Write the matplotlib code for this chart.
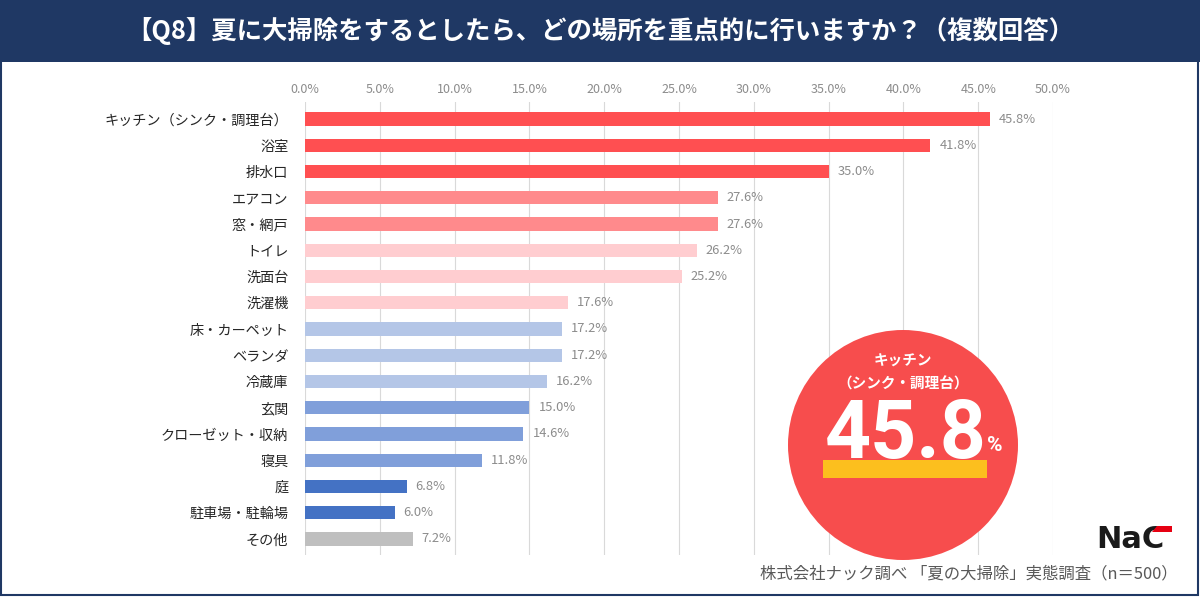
import matplotlib
matplotlib.use("Agg")
import matplotlib.pyplot as plt
from matplotlib.patches import Rectangle, Ellipse, Polygon

plt.rcParams['font.family'] = ['Noto Sans CJK JP', 'DejaVu Sans']

# Data (top to bottom as shown)
categories = ['キッチン（シンク・調理台）', '浴室', '排水口', 'エアコン', '窓・網戸', 'トイレ',
              '洗面台', '洗濯機', '床・カーペット', 'ベランダ', '冷蔵庫', '玄関',
              'クローゼット・収納', '寝具', '庭', '駐車場・駐輪場', 'その他']
values = [45.8, 41.8, 35.0, 27.6, 27.6, 26.2, 25.2, 17.6, 17.2, 17.2, 16.2, 15.0,
          14.6, 11.8, 6.8, 6.0, 7.2]
bar_colors = ['#ff4f51', '#ff4f51', '#ff4f51', '#ff8a8c', '#ff8a8c', '#ffcdd0',
              '#ffcdd0', '#ffcdd0', '#b4c6e7', '#b4c6e7', '#b4c6e7', '#809fda',
              '#809fda', '#809fda', '#4472c4', '#4472c4', '#bfbfbf']
x_ticks = [0, 5, 10, 15, 20, 25, 30, 35, 40, 45, 50]

title = '【Q8】夏に大掃除をするとしたら、どの場所を重点的に行いますか？（複数回答）'
source = '株式会社ナック調べ 「夏の大掃除」実態調査（n＝500）'

W, H = 1200, 597
fig = plt.figure(figsize=(W / 100, H / 100), dpi=100)
fig.patch.set_facecolor('white')

# title band
fig.patches.append(Rectangle((0, 1 - 62 / H), 1, 62 / H, transform=fig.transFigure,
                             facecolor='#1f3864', edgecolor='none', zorder=0))
fig.text(0.5, 1 - 31 / H, title, color='white', fontsize=18.3, fontweight='bold',
         ha='center', va='center')
# outer frame
fig.patches.append(Rectangle((0.001, 0.003), 0.997, 0.994, transform=fig.transFigure,
                             facecolor='none', edgecolor='#1f3864', linewidth=1.5, zorder=0))

# chart area
left, right = 305 / W, 1053 / W
top, bottom = 1 - 102 / H, 1 - 555 / H
ax = fig.add_axes([left, bottom, right - left, top - bottom])

y = list(range(len(categories)))
ax.barh(y, values, height=0.5, color=bar_colors, zorder=3)
for yi, v in zip(y, values):
    ax.text(v + 0.6, yi, f'{v:.1f}%', va='center', ha='left', fontsize=9.3, color='#8c8c8c')

ax.set_xlim(0, 50)
ax.set_ylim(16.61, -0.648)
ax.set_xticks(x_ticks)
ax.set_xticklabels([f'{t:.1f}%' for t in x_ticks], fontsize=9, color='#8c8c8c')
ax.xaxis.tick_top()
ax.tick_params(axis='x', length=0, pad=4)
ax.set_yticks(y)
ax.set_yticklabels(categories, fontsize=10.2, color='#262626')
ax.tick_params(axis='y', length=0, pad=12)
ax.grid(axis='x', color='#d9d9d9', linewidth=0.8, zorder=0)
for s in ax.spines.values():
    s.set_visible(False)
ax.set_facecolor('none')

# highlight circle
cx, cy, r = 903, 445, 115
fig.patches.append(Ellipse((cx / W, 1 - cy / H), 2 * r / W, 2 * r / H,
                           transform=fig.transFigure, facecolor='#f74d4d',
                           edgecolor='none', zorder=4))
fig.patches.append(Rectangle((823 / W, 1 - 478 / H), 164 / W, 18 / H,
                             transform=fig.transFigure, facecolor='#fcbf1e',
                             edgecolor='none', zorder=5))
fig.text(cx / W, 1 - 361 / H, 'キッチン', color='white', fontsize=10.5,
         fontweight='bold', ha='center', va='center', zorder=6)
fig.text(cx / W, 1 - 384 / H, '（シンク・調理台）', color='white', fontsize=10.5,
         fontweight='bold', ha='center', va='center', zorder=6)
fig.text(906 / W, 1 - 458 / H, f'{values[0]:.1f}', color='white', fontsize=58,
         fontfamily='Roboto', fontweight='bold', ha='center', va='baseline', zorder=6)
fig.text(987 / W, 1 - 451 / H, '%', color='white', fontsize=15,
         fontfamily='Roboto', fontweight='bold', ha='left', va='baseline', zorder=6)

# logo
fig.text(1130 / W, 1 - 539 / H, 'NaC', color='#1a1a1a', fontsize=22, fontweight='black',
         fontfamily='DejaVu Sans', ha='center', va='center')
fig.patches.append(Polygon([(1157 / W, 1 - 526 / H), (1172 / W, 1 - 526 / H),
                            (1172 / W, 1 - 532 / H), (1152 / W, 1 - 532 / H)],
                           closed=True, transform=fig.transFigure,
                           facecolor='#e60012', edgecolor='none', zorder=6))

# source
fig.text(1178 / W, 1 - 574 / H, source, color='#595959', fontsize=11.8,
         ha='right', va='center')

fig.savefig('out.png', dpi=100)
